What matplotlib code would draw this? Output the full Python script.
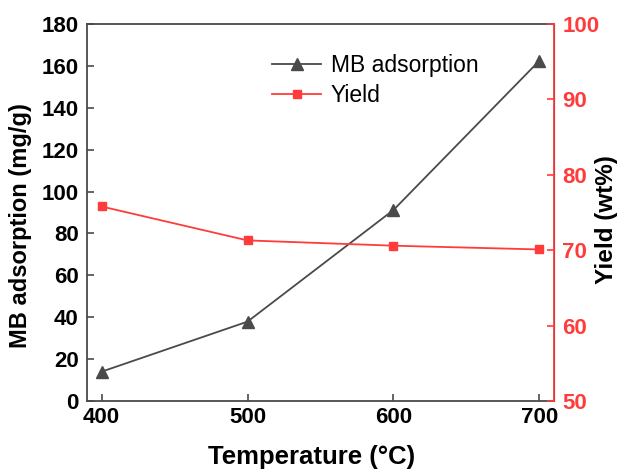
import matplotlib
matplotlib.use('Agg')
import matplotlib.pyplot as plt

plt.rcParams['font.family'] = ['Liberation Sans', 'DejaVu Sans']

# data
temperature = [400, 500, 600, 700]
mb_adsorption = [14.0, 37.9, 91.2, 162.5]
yield_wt = [75.8, 71.3, 70.6, 70.1]

gray = '#4a4a4a'
red = '#ff3b3b'

fig = plt.figure(figsize=(6.19, 4.71), dpi=100)
ax = fig.add_axes([0.1405, 0.1486, 0.7545, 0.8004])
ax2 = ax.twinx()

l1, = ax.plot(temperature, mb_adsorption, '-^', color=gray, ms=8, lw=1.3, label='MB adsorption')
l2, = ax2.plot(temperature, yield_wt, '-s', color=red, ms=6, lw=1.3, label='Yield')

ax.set_xlim(390, 710)
ax.set_ylim(0, 180)
ax.set_xticks(temperature)
ax.set_yticks(range(0, 181, 20))
ax2.set_ylim(50, 100)
ax2.set_yticks(range(50, 101, 10))

ax.set_xlabel('Temperature (°C)', fontsize=18.5, fontweight='bold')
ax.xaxis.set_label_coords(0.48, -0.117)
ax.set_ylabel('MB adsorption (mg/g)', fontsize=17, fontweight='bold')
ax.yaxis.set_label_coords(-0.118, 0.466)
ax2.set_ylabel('Yield (wt%)', fontsize=17.5, fontweight='bold')
ax2.yaxis.set_label_coords(1.088, 0.48)

ax.tick_params(direction='in', labelsize=16, width=1.2, length=5, color=gray)
ax.tick_params(axis='x', pad=4)
ax.tick_params(axis='y', pad=6)
for lab in ax.get_xticklabels() + ax.get_yticklabels():
    lab.set_fontweight('bold')
ax2.tick_params(direction='in', labelsize=16, width=1.2, length=5, pad=6, color=red, labelcolor=red)
for lab in ax2.get_yticklabels():
    lab.set_fontweight('bold')

for s in ['left', 'bottom', 'top']:
    ax.spines[s].set_color(gray)
    ax.spines[s].set_linewidth(1.3)
ax2.spines['right'].set_color(red)
ax2.spines['right'].set_linewidth(1.3)
for s in ['left', 'bottom', 'top']:
    ax2.spines[s].set_visible(False)

ax.legend([l1, l2], ['MB adsorption', 'Yield'], loc='upper left', bbox_to_anchor=(0.353, 0.976),
          frameon=False, fontsize=16.5, handlelength=2.1, handletextpad=0.45, labelspacing=0.3)

fig.savefig('out.png', dpi=100)
